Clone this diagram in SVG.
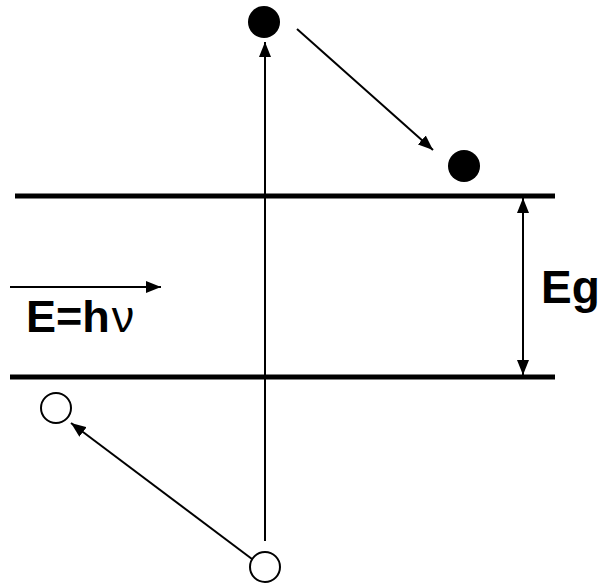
<svg xmlns="http://www.w3.org/2000/svg" width="600" height="584" viewBox="0 0 600 584">
<defs>
<style>
.band{stroke:#000;stroke-width:5;fill:none}
.conn{stroke:#000;stroke-width:2;fill:none}
.full{fill:#000}
.hole{fill:#fff;stroke:#000;stroke-width:2}
.lbl{font-family:"Liberation Sans",Arial,sans-serif;font-weight:bold;fill:#000}
</style>
<marker id="ah" viewBox="0 0 15 12" refX="15" refY="6" markerWidth="15" markerHeight="12" markerUnits="userSpaceOnUse" orient="auto-start-reverse">
<path d="M0,0 L15,6 L0,12 Z" fill="#000"/>
</marker>
</defs>
<g id="conduction-band"><line class="band" x1="15" y1="196" x2="555" y2="196"/></g>
<g id="valence-band"><line class="band" x1="10" y1="377" x2="555" y2="377"/></g>
<g id="electron-excited"><circle class="full" cx="264" cy="22" r="16"/></g>
<g id="electron-relaxed"><circle class="full" cx="464" cy="166" r="16"/></g>
<g id="hole-left"><circle class="hole" cx="56" cy="408" r="15"/></g>
<g id="hole-bottom"><circle class="hole" cx="265" cy="567" r="15"/></g>
<g id="label-eg"><text class="lbl" x="541" y="303" font-size="46">Eg</text></g>
<g id="label-photon"><text class="lbl" x="26" y="332" font-size="45">E=h<tspan font-weight="normal" dx="2">ν</tspan></text></g>
<g id="connectors">
<line class="conn" x1="265" y1="541" x2="265" y2="42" marker-end="url(#ah)"/>
<line class="conn" x1="297" y1="29" x2="433" y2="150" marker-end="url(#ah)"/>
<line class="conn" x1="523" y1="198" x2="523" y2="375" marker-start="url(#ah)" marker-end="url(#ah)"/>
<line class="conn" x1="10" y1="287" x2="161" y2="287" marker-end="url(#ah)"/>
<line class="conn" x1="252" y1="559" x2="71" y2="423" marker-end="url(#ah)"/>
</g>
</svg>
